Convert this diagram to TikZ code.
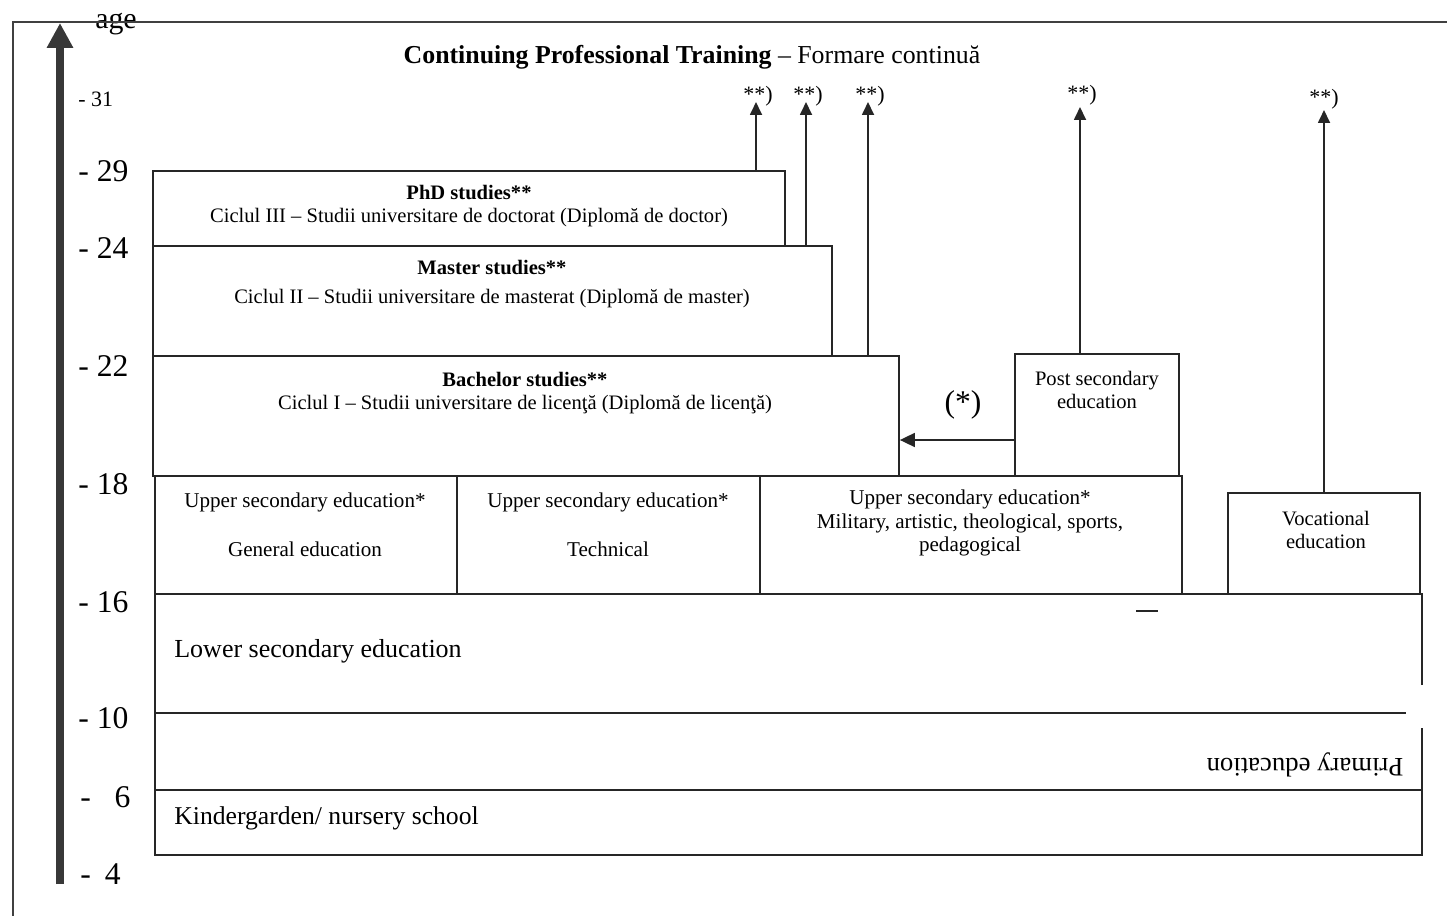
\documentclass[tikz,border=0pt]{standalone}
\usepackage{fontspec}
\setmainfont{Liberation Serif}
\usetikzlibrary{ fit,         % For boxes spanned by their corner points
                 arrows.meta, % For filled triangle tips
                 positioning,
               }
\tikzstyle{stage} = [rectangle, draw=black!85, line width=1pt, inner sep=0pt]
\tikzstyle{line} = [draw=black!85, line width=1pt]
\tikzstyle{up} = [-{Triangle[width=0.24cm, length=0.26cm]}, line width=1pt, draw=black!85]
\tikzstyle{tick} = [anchor=west, inner sep=0pt, font=\fontsize{18}{20}\selectfont]
\tikzstyle{boxtext} = [align=center, inner sep=0pt, font=\fontsize{11.7}{13.6}\selectfont]
\tikzstyle{note} = [inner sep=0pt, font=\fontsize{12.5}{14}\selectfont]
\tikzstyle{big} = [inner sep=0pt, font=\fontsize{14.8}{18}\selectfont]

\begin{document}
\begin{tikzpicture}[x=0.02cm, y=-0.02cm]
  \useasboundingbox (0,0) rectangle (1447,916);

  % age axis
  \node (age) [inner sep=0pt, font=\fontsize{17}{20}\selectfont] at (116,24) {age};
  \draw [black!75, line width=0.7pt] (13,916) -- (13,22) -- (1447,22);
  \coordinate (a0) at (60,884);
  \coordinate (a1) at (60,23);
  \draw [-{Triangle[width=0.5cm, length=0.5cm]}, line width=0.16cm, black!78] (a0) -- (a1);

  \node (t31) [tick, font=\fontsize{12.5}{14}\selectfont] at (78,99) {- 31};
  \node (t29) [tick] at (78,171) {- 29};
  \node (t24) [tick] at (78,248) {- 24};
  \node (t22) [tick] at (78,366) {- 22};
  \node (t18) [tick] at (78,484) {- 18};
  \node (t16) [tick] at (78,602) {- 16};
  \node (t10) [tick] at (78,718) {- 10};
  \node (t6) [tick] at (80,797) {- \phantom{1}6};
  \node (t4) [tick] at (80,874) {-\hspace{8pt}4};

  \node (title) [inner sep=0pt, font=\fontsize{14.7}{17}\selectfont] at (692,57)
    {\textbf{Continuing Professional Training} – Formare continuă};

  % higher education
  \node (phd) [stage, fit={(153,171) (785,246)}] {};
  \node (master) [stage, fit={(153,246) (832,356)}] {};
  \node (bach) [stage, fit={(153,356) (899,476)}] {};
  \node (post) [stage, fit={(1015,354) (1179,476)}] {};

  \node (phdt) [boxtext, font=\fontsize{11.7}{13}\selectfont] at (469,206)
    {\textbf{PhD studies**}\\Ciclul III – Studii universitare de doctorat (Diplomă de doctor)};
  \node (mastert) [boxtext, font=\fontsize{11.7}{16}\selectfont] at (492,284)
    {\textbf{Master studies**}\\Ciclul II – Studii universitare de masterat (Diplomă de master)};
  \node (bacht) [boxtext] at (525,393)
    {\textbf{Bachelor studies**}\\Ciclul I – Studii universitare de licenţă (Diplomă de licenţă)};
  \node (postt) [boxtext] at (1097,390) {Post secondary\\education};

  % upper secondary
  \node (us1) [stage, fit={(155,476) (457,594)}] {};
  \node (us2) [stage, fit={(457,476) (760,594)}] {};
  \node (us3) [stage, fit={(760,476) (1182,594)}] {};
  \node (voc) [stage, fit={(1228,493) (1420,594)}] {};

  \node (us1t) [boxtext, font=\fontsize{12}{13.6}\selectfont] at (305,525)
    {Upper secondary education*\\[14pt]General education};
  \node (us2t) [boxtext, font=\fontsize{12}{13.6}\selectfont] at (608,525)
    {Upper secondary education*\\[14pt]Technical};
  \node (us3t) [boxtext, font=\fontsize{12}{13.6}\selectfont] at (970,523)
    {Upper secondary education*\\Military, artistic, theological, sports,\\pedagogical};
  \node (voct) [boxtext] at (1326,530) {Vocational\\education};

  % compulsory school
  \draw [line] (1422,685) -- (1422,594) -- (155,594) -- (155,855) -- (1422,855) -- (1422,728);
  \draw [line] (155,713) -- (1406,713);
  \draw [line] (155,790) -- (1422,790);
  \draw [line] (1136,611) -- (1158,611);

  \node (lower) [big, anchor=west] at (174,651) {Lower secondary education};
  \node (primary) [big, font=\fontsize{15.2}{18}\selectfont, rotate=180] at (1305,765) {Primary education};
  \node (kinder) [big, font=\fontsize{14.6}{18}\selectfont, anchor=west] at (174,818) {Kindergarden/ nursery school};

  % continuing training
  \node (s1) [note] at (758,96) {**)};
  \node (s2) [note] at (808,96) {**)};
  \node (s3) [note] at (870,96) {**)};
  \node (s4) [note] at (1082,95) {**)};
  \node (s5) [note] at (1324,99) {**)};
  \coordinate (h1) at (756,102);
  \coordinate (h2) at (806,102);
  \coordinate (h3) at (868,102);
  \coordinate (h4) at (1080,107);
  \coordinate (h5) at (1324,110);
  \draw [up] (phd.north -| h1) -- (h1);
  \draw [up] (master.north -| h2) -- (h2);
  \draw [up] (bach.north -| h3) -- (h3);
  \draw [up] (post.north -| h4) -- (h4);
  \draw [up] (voc.north -| h5) -- (h5);

  \node (star) [inner sep=0pt, font=\fontsize{18}{20}\selectfont] at (963,405) {(*)};
  \draw [up, -{Triangle[width=0.28cm, length=0.3cm]}] ([yshift=-0.5cm]post.west) -- ([yshift=-0.5cm]post.west -| bach.east);
\end{tikzpicture}
\end{document}
